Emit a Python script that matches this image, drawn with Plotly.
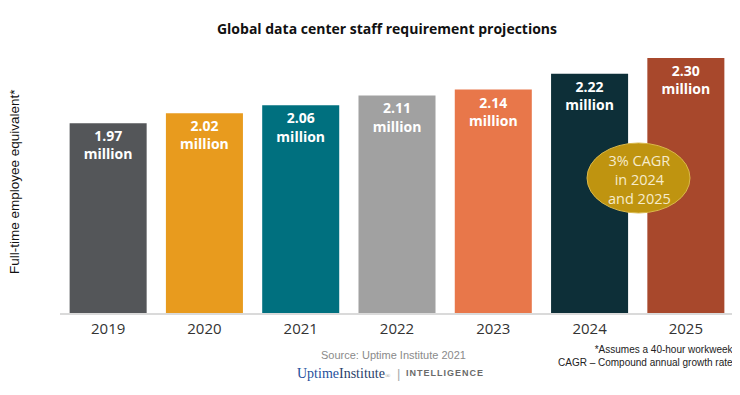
import plotly.graph_objects as go

years = ["2019", "2020", "2021", "2022", "2023", "2024", "2025"]
staff_millions = [1.97, 2.02, 2.06, 2.11, 2.14, 2.22, 2.30]
bar_colors = ["#545659", "#E89B1E", "#00707F", "#A1A1A1", "#E8774A", "#0D2F38", "#A8482C"]

title_text = "Global data center staff requirement projections"
y_title = "Full-time employee equivalent*"
cagr_note = "3% CAGR<br>in 2024<br>and 2025"
source_text = "Source: Uptime Institute 2021"
footnote_1 = "*Assumes a 40-hour workweek"
footnote_2 = "CAGR – Compound annual growth rate"

# page body margin offsets the figure by 8px; layout is sized to compensate
OFF = 8
W, H = 740 - OFF, 395 - OFF
PL, PR, PT, PB = 60, 734, 50, 313  # plot area in page pixels


def px(xp):
    return (xp - PL) / (PR - PL)


def py(yp):
    return (PB - yp) / (PB - PT)


fig = go.Figure(
    go.Bar(
        x=years,
        y=staff_millions,
        marker=dict(color=bar_colors, line=dict(width=0)),
        texttemplate="%{y:.2f}<br>million",
        textposition="inside",
        insidetextanchor="end",
        textangle=0,
        textfont=dict(family="Open Sans", size=14, color="white", weight="bold"),
        hoverinfo="skip",
    )
)

fig.update_layout(
    width=W,
    height=H,
    margin=dict(l=PL - OFF, r=W - (PR - OFF), t=PT - OFF, b=H - (PB - OFF)),
    paper_bgcolor="white",
    plot_bgcolor="white",
    bargap=0.2,
    showlegend=False,
    title=dict(
        text=title_text,
        x=(387 - OFF) / W,
        xanchor="center",
        y=1 - (29 - OFF) / H,
        yanchor="middle",
        font=dict(family="Open Sans", size=14, color="#111111", weight="bold"),
    ),
    xaxis=dict(
        showline=True,
        linecolor="#DADADA",
        linewidth=2,
        ticks="outside",
        ticklen=1,
        tickcolor="rgba(0,0,0,0)",
        tickfont=dict(family="Open Sans", size=15, color="#333333"),
        showgrid=False,
    ),
    yaxis=dict(
        range=[1.01, 2.34],
        showgrid=False,
        showticklabels=False,
        zeroline=False,
        showline=False,
    ),
)

fig.add_shape(
    type="circle",
    xref="paper",
    yref="paper",
    x0=px(587),
    x1=px(690),
    y0=py(213),
    y1=py(143),
    fillcolor="#BF9410",
    line=dict(color="#D9B84A", width=1),
    layer="above",
)

fig.add_annotation(
    text=cagr_note,
    xref="paper", yref="paper",
    x=px(639), y=py(179),
    xanchor="center", yanchor="middle",
    showarrow=False,
    font=dict(family="Open Sans", size=14.5, color="#F6EBCB"),
    align="center",
)

fig.add_annotation(
    text=y_title,
    xref="paper", yref="paper",
    x=px(14), y=py(182),
    xanchor="center", yanchor="middle",
    textangle=-90,
    showarrow=False,
    font=dict(family="Liberation Sans", size=13.5, color="#111111"),
)

fig.add_annotation(
    text=source_text,
    xref="paper", yref="paper",
    x=px(393), y=py(355),
    xanchor="center", yanchor="middle",
    showarrow=False,
    font=dict(family="Liberation Sans", size=11, color="#8A8A8A"),
)

# logo line: "UptimeInstitute® | INTELLIGENCE"
fig.add_annotation(
    text=("<span style='color:#1F4F9C'>Uptime</span>"
          "<span style='color:#2A3F6A'>Institute</span>"
          "<span style='color:#999999;font-size:7px'>®</span>"),
    xref="paper", yref="paper",
    x=px(393), y=py(373),
    xanchor="right", yanchor="middle",
    showarrow=False,
    font=dict(family="Liberation Serif", size=14, color="#2A3F6A"),
)
fig.add_annotation(
    text="|",
    xref="paper", yref="paper",
    x=px(398), y=py(373),
    xanchor="center", yanchor="middle",
    showarrow=False,
    font=dict(family="Liberation Sans", size=13, color="#AAAAAA"),
)
fig.add_annotation(
    text="<span style='letter-spacing:1px'>INTELLIGENCE</span>",
    xref="paper", yref="paper",
    x=px(404), y=py(373),
    xanchor="left", yanchor="middle",
    showarrow=False,
    font=dict(family="Liberation Sans", size=9, color="#6A6A6A", weight="bold"),
)

fig.add_annotation(
    text=footnote_1 + "<br>" + footnote_2,
    xref="paper", yref="paper",
    x=px(736), y=py(356),
    xanchor="right", yanchor="middle",
    align="right",
    showarrow=False,
    font=dict(family="Liberation Sans", size=10, color="#222222"),
)

fig.write_html("out.html")
